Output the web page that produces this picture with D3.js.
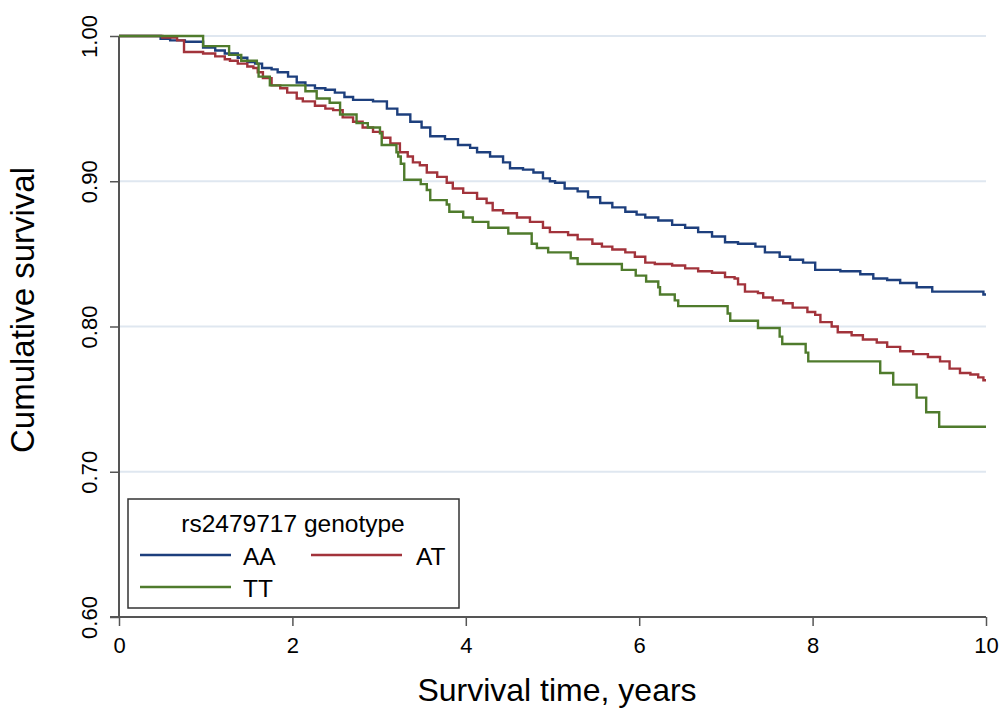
<!DOCTYPE html>
<html>
<head>
<meta charset="utf-8">
<script src="https://cdn.jsdelivr.net/npm/d3@7"></script>
<style>
  html, body { margin: 0; padding: 0; background: #fff; }
  svg { display: block; font-family: "Liberation Sans", Arial, sans-serif; }
</style>
</head>
<body>
<svg id="chart" width="1004" height="724"></svg>
<script>
// ---- data (Kaplan-Meier step points) ----
const groups = ["AA", "AT", "TT"];
const legendTitle = "rs2479717 genotype";
const xTicks = [0, 2, 4, 6, 8, 10];
const yTicks = [0.6, 0.7, 0.8, 0.9, 1.0];
const yGrid = [0.7, 0.8, 0.9, 1.0];

const timeAA = [0, 0.48, 0.59, 0.76, 0.97, 1.11, 1.22, 1.37, 1.48, 1.57, 1.65, 1.76, 1.83, 1.95, 2.05, 2.15, 2.26, 2.38, 2.49, 2.60, 2.70, 2.93, 3.09, 3.21, 3.36, 3.49, 3.59, 3.76, 3.91, 4.05, 4.13, 4.28, 4.43, 4.51, 4.66, 4.78, 4.89, 4.97, 5.03, 5.14, 5.29, 5.41, 5.55, 5.69, 5.84, 5.97, 6.07, 6.22, 6.38, 6.53, 6.68, 6.84, 6.99, 7.14, 7.34, 7.45, 7.62, 7.74, 7.89, 8.03, 8.32, 8.55, 8.70, 8.86, 9.01, 9.20, 9.38, 9.97, 10];
const survAA = [1, 0.998, 0.997, 0.996, 0.992, 0.990, 0.988, 0.985, 0.982, 0.981, 0.978, 0.977, 0.975, 0.972, 0.968, 0.966, 0.964, 0.963, 0.961, 0.958, 0.956, 0.955, 0.950, 0.946, 0.941, 0.937, 0.931, 0.929, 0.925, 0.923, 0.920, 0.917, 0.913, 0.909, 0.908, 0.906, 0.902, 0.900, 0.899, 0.895, 0.893, 0.889, 0.885, 0.882, 0.879, 0.877, 0.875, 0.873, 0.870, 0.868, 0.865, 0.862, 0.858, 0.857, 0.855, 0.851, 0.848, 0.846, 0.844, 0.839, 0.838, 0.836, 0.833, 0.832, 0.830, 0.827, 0.824, 0.822, 0.822];

const timeAT = [0, 0.50, 0.67, 0.75, 0.97, 1.11, 1.22, 1.28, 1.37, 1.48, 1.55, 1.60, 1.66, 1.76, 1.86, 1.94, 2.05, 2.12, 2.26, 2.38, 2.47, 2.58, 2.70, 2.81, 2.93, 3.04, 3.13, 3.24, 3.33, 3.39, 3.47, 3.55, 3.67, 3.78, 3.85, 3.97, 4.13, 4.24, 4.31, 4.43, 4.59, 4.74, 4.89, 4.97, 5.18, 5.29, 5.46, 5.57, 5.69, 5.84, 5.95, 6.07, 6.18, 6.38, 6.53, 6.68, 6.84, 6.99, 7.10, 7.14, 7.22, 7.37, 7.43, 7.54, 7.66, 7.77, 7.94, 8.03, 8.09, 8.22, 8.29, 8.45, 8.58, 8.74, 8.86, 9.01, 9.16, 9.33, 9.47, 9.58, 9.70, 9.82, 9.91, 9.97, 10];
const survAT = [1, 0.999, 0.997, 0.989, 0.988, 0.986, 0.984, 0.983, 0.981, 0.979, 0.978, 0.975, 0.971, 0.966, 0.964, 0.961, 0.957, 0.955, 0.952, 0.950, 0.949, 0.944, 0.941, 0.937, 0.934, 0.930, 0.926, 0.920, 0.917, 0.913, 0.911, 0.906, 0.903, 0.899, 0.895, 0.892, 0.888, 0.885, 0.880, 0.878, 0.875, 0.872, 0.868, 0.865, 0.863, 0.860, 0.857, 0.855, 0.853, 0.851, 0.848, 0.844, 0.843, 0.842, 0.840, 0.838, 0.837, 0.834, 0.833, 0.829, 0.824, 0.823, 0.820, 0.818, 0.816, 0.813, 0.810, 0.808, 0.803, 0.800, 0.796, 0.794, 0.791, 0.789, 0.786, 0.783, 0.781, 0.779, 0.776, 0.771, 0.768, 0.767, 0.765, 0.763, 0.763];

const timeTT = [0, 0.97, 1.27, 1.41, 1.59, 1.61, 1.74, 2.15, 2.28, 2.43, 2.55, 2.74, 2.87, 3.01, 3.03, 3.20, 3.22, 3.25, 3.29, 3.48, 3.55, 3.59, 3.78, 3.81, 3.97, 4.08, 4.26, 4.49, 4.76, 4.82, 4.95, 5.21, 5.29, 5.80, 5.96, 6.08, 6.22, 6.24, 6.41, 6.45, 7.02, 7.05, 7.37, 7.62, 7.65, 7.92, 7.95, 8.78, 8.93, 9.20, 9.31, 9.46, 10];
const survTT = [1, 0.993, 0.987, 0.983, 0.981, 0.972, 0.966, 0.962, 0.957, 0.954, 0.946, 0.940, 0.937, 0.933, 0.925, 0.920, 0.917, 0.912, 0.901, 0.898, 0.894, 0.887, 0.884, 0.879, 0.875, 0.872, 0.868, 0.864, 0.857, 0.854, 0.851, 0.847, 0.843, 0.839, 0.835, 0.831, 0.827, 0.822, 0.818, 0.814, 0.809, 0.804, 0.799, 0.793, 0.788, 0.782, 0.776, 0.768, 0.760, 0.751, 0.741, 0.731, 0.731];

const colors = {AA: "#1d3f7d", AT: "#a2333b", TT: "#4f7b2c"};

const series = [
  {name: "AA", t: timeAA, s: survAA},
  {name: "AT", t: timeAT, s: survAT},
  {name: "TT", t: timeTT, s: survTT}
];

// ---- layout ----
const svg = d3.select("#chart");
const mLeft = 119, mRight = 986, mTop = 36, mBottom = 617;
const x = d3.scaleLinear().domain([0, 10]).range([mLeft, mRight]);
const y = d3.scaleLinear().domain([0.6, 1.0]).range([mBottom, mTop]);

svg.append("rect").attr("width", 1004).attr("height", 724).attr("fill", "#fff");

// gridlines
svg.append("g").selectAll("line").data(yGrid).join("line")
  .attr("x1", mLeft).attr("x2", mRight)
  .attr("y1", d => y(d)).attr("y2", d => y(d))
  .attr("stroke", "#dfe7f0").attr("stroke-width", 2);

// axes
const axisColor = "#555";
const xAxis = svg.append("g").attr("transform", `translate(0,${mBottom})`)
  .call(d3.axisBottom(x).tickValues(xTicks).tickFormat(d3.format("d")).tickSize(9).tickPadding(11));
const yAxis = svg.append("g").attr("transform", `translate(${mLeft},0)`)
  .call(d3.axisLeft(y).tickValues(yTicks).tickFormat(d3.format(".2f")).tickSize(9).tickPadding(6));

[xAxis, yAxis].forEach(g => {
  g.select(".domain").attr("stroke", axisColor).attr("stroke-width", 2);
  g.selectAll(".tick line").attr("stroke", axisColor).attr("stroke-width", 1.5);
  g.selectAll(".tick text").attr("fill", "#000").attr("font-size", 22)
    .attr("font-family", "Liberation Sans, Arial, sans-serif");
});
xAxis.select(".domain").attr("d", `M${mLeft - 9},0H${mRight}`);
yAxis.select(".domain").attr("d", `M0,${mTop}V${mBottom}`);

// rotate y tick labels
yAxis.selectAll(".tick text")
  .attr("transform", "rotate(-90)")
  .attr("x", 0).attr("y", -22)
  .attr("dy", "0")
  .attr("text-anchor", "middle");

// curves
const line = d3.line()
  .x(d => x(d[0]))
  .y(d => y(d[1]))
  .curve(d3.curveStepAfter);

svg.append("g").selectAll("path").data(series).join("path")
  .attr("d", d => line(d.t.map((t, i) => [t, d.s[i]])))
  .attr("fill", "none")
  .attr("stroke", d => colors[d.name])
  .attr("stroke-width", 2.4);

// axis titles
svg.append("text")
  .attr("x", 557).attr("y", 701)
  .attr("text-anchor", "middle")
  .attr("font-size", 32)
  .text("Survival time, years");

svg.append("text")
  .attr("transform", `translate(34,310) rotate(-90)`)
  .attr("text-anchor", "middle")
  .attr("font-size", 33)
  .text("Cumulative survival");

// legend
const lg = svg.append("g");
lg.append("rect").attr("x", 128).attr("y", 499).attr("width", 331).attr("height", 109)
  .attr("fill", "#fff").attr("stroke", "#333").attr("stroke-width", 1.5);
lg.append("text").attr("x", 293).attr("y", 532).attr("text-anchor", "middle")
  .attr("font-size", 24.5).text(legendTitle);

const legendPos = [
  {name: "AA", lx: 140, ly: 555, tx: 243},
  {name: "AT", lx: 311, ly: 555, tx: 416},
  {name: "TT", lx: 140, ly: 587, tx: 243}
];
legendPos.forEach(p => {
  lg.append("line").attr("x1", p.lx).attr("x2", p.lx + 91)
    .attr("y1", p.ly).attr("y2", p.ly)
    .attr("stroke", colors[p.name]).attr("stroke-width", 2.4);
  lg.append("text").attr("x", p.tx).attr("y", p.ly + 10)
    .attr("font-size", 24.5).text(p.name);
});
</script>
</body>
</html>
